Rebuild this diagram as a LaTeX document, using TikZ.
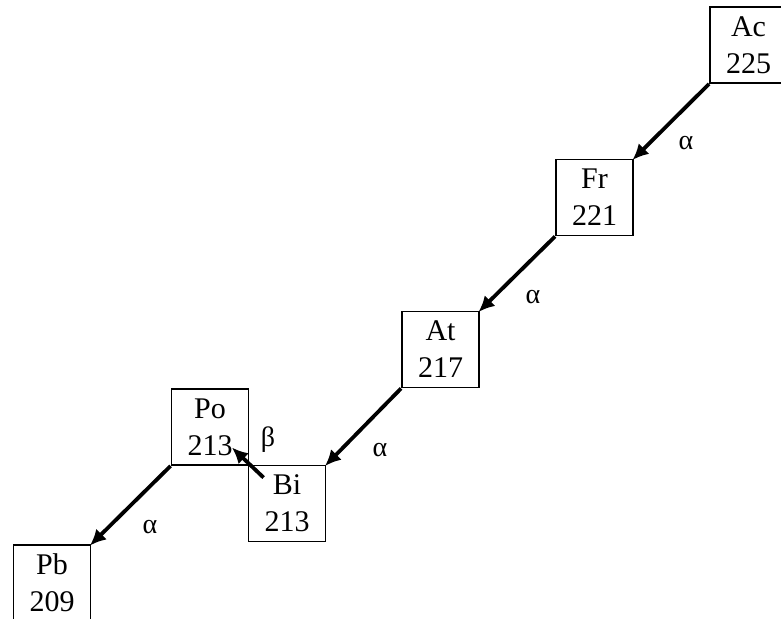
\documentclass[tikz,border=0pt]{standalone}
\usepackage{fontspec}
\setmainfont{Liberation Serif}
\usetikzlibrary{arrows.meta}
\begin{document}
\begin{tikzpicture}[x=1pt,y=-1pt,
  elem/.style={draw,line width=1.8pt,minimum width=77pt,minimum height=76pt,inner sep=0pt,align=center,font=\fontsize{30}{37}\selectfont},
  arr/.style={line width=3.8pt,-{Latex[length=16pt,width=15pt]},shorten >=-2pt},
  lbl/.style={font=\fontsize{28}{32}\selectfont,inner sep=0pt}]
\useasboundingbox (0,0) rectangle (781,618);
\node[elem] (ac) at (748.5,45) {Ac\\225};
\node[elem] (fr) at (594.5,197.5) {Fr\\221};
\node[elem] (at) at (440.5,349.5) {At\\217};
\node[elem] (po) at (210,427) {Po\\213};
\node[elem] (bi) at (287,503.5) {Bi\\213};
\node[elem] (pb) at (52,583) {Pb\\209};
\draw[arr] (ac.south west) -- (fr.north east);
\draw[arr] (fr.south west) -- (at.north east);
\draw[arr] (at.south west) -- (bi.north east);
\draw[arr] ([shift={(16,13)}]bi.north west) -- ([shift={(-16,-17)}]po.south east);
\draw[arr] (po.south west) -- (pb.north east);
\node[lbl] (a1) at (686,143) {α};
\node[lbl] (a2) at (533,297) {α};
\node[lbl] (a3) at (380,450) {α};
\node[lbl] (a4) at (150,527) {α};
\node[lbl] (b1) at (268,440) {β};
\end{tikzpicture}
\end{document}
